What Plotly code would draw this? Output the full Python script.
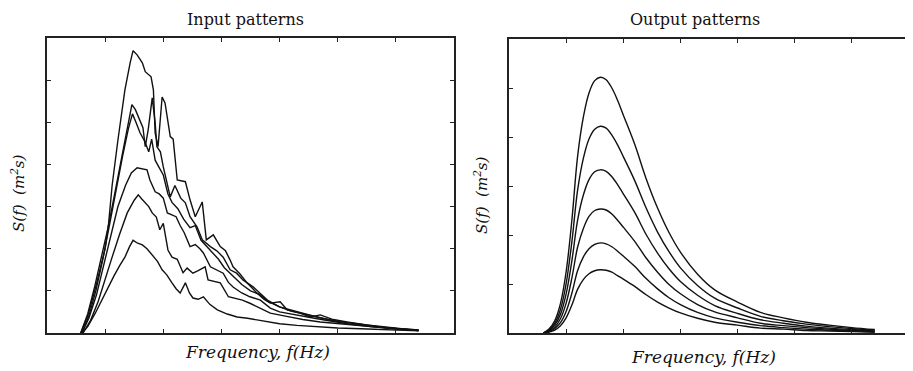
import plotly.graph_objects as go

# ---------------- Input patterns (left panel) ----------------
in_a_x = [0.58, 0.7, 0.82, 0.92, 1.0, 1.06, 1.12, 1.22, 1.34, 1.43, 1.48, 1.55, 1.64, 1.69, 1.79, 1.83, 1.86, 1.91,
          1.98, 2.03, 2.12, 2.17, 2.24, 2.38, 2.46, 2.55, 2.67, 2.74, 2.86, 2.98, 3.07, 3.15, 3.2, 3.32, 3.44, 3.61,
          3.73, 3.84, 4.01, 4.13, 4.35, 4.53, 4.7, 4.9, 5.16, 5.5, 5.8, 6.1, 6.39]
in_a_y = [0, 0.4, 1.0, 1.55, 2.0, 2.6, 3.5, 4.58, 5.77, 6.41, 6.7, 6.6, 6.41, 6.2, 6.08, 5.77, 4.75, 4.42,
          5.6, 5.46, 4.66, 4.6, 3.63, 3.59, 3.16, 2.76, 3.11, 2.21, 2.33, 2.05, 1.95, 1.73, 1.57, 1.4, 1.19, 0.95,
          0.8, 0.71, 0.74, 0.55, 0.47, 0.38, 0.43, 0.33, 0.26, 0.19, 0.14, 0.1, 0.07]

in_b_x = [0.58, 0.7, 0.82, 0.94, 1.05, 1.15, 1.25, 1.35, 1.42, 1.46, 1.52, 1.57, 1.65, 1.69, 1.74, 1.81, 1.86, 1.89,
          1.95, 2.0, 2.06, 2.12, 2.2, 2.3, 2.38, 2.46, 2.58, 2.67, 2.81, 2.92, 3.03, 3.15, 3.26, 3.37, 3.55, 3.79,
          4.0, 4.2, 4.45, 4.7, 5.0, 5.3, 5.6, 5.9, 6.2, 6.39]
in_b_y = [0, 0.45, 1.1, 1.8, 2.5, 3.2, 3.9, 4.6, 5.1, 5.42, 5.3, 5.13, 4.87, 4.42, 4.82, 5.58, 4.99, 4.42,
          4.3, 3.94, 3.6, 3.23, 3.5, 3.2, 3.09, 2.76, 2.52, 2.21, 2.05, 1.95, 1.8, 1.5, 1.42, 1.26, 1.09, 0.78,
          0.62, 0.55, 0.45, 0.36, 0.28, 0.22, 0.16, 0.12, 0.08, 0.06]

in_c_x = [0.6, 0.72, 0.84, 0.96, 1.08, 1.2, 1.3, 1.4, 1.47, 1.53, 1.6, 1.68, 1.75, 1.8, 1.86, 1.92, 2.0, 2.08,
          2.15, 2.25, 2.35, 2.46, 2.55, 2.65, 2.75, 2.85, 2.95, 3.05, 3.2, 3.35, 3.5, 3.65, 3.8, 4.0, 4.2, 4.4,
          4.65, 4.9, 5.2, 5.5, 5.8, 6.1, 6.39]
in_c_y = [0, 0.4, 1.0, 1.75, 2.6, 3.5, 4.2, 4.85, 5.2, 5.0, 4.75, 4.55, 4.3, 4.6, 4.1, 3.95, 3.75, 3.3,
          3.1, 2.95, 2.7, 2.5, 2.55, 2.2, 2.05, 1.9, 1.75, 1.55, 1.35, 1.15, 1.0, 0.92, 0.75, 0.62, 0.52, 0.45,
          0.38, 0.3, 0.24, 0.18, 0.13, 0.09, 0.06]

in_d_x = [0.6, 0.72, 0.85, 0.97, 1.1, 1.22, 1.35, 1.45, 1.55, 1.63, 1.72, 1.77, 1.86, 1.93, 2.0, 2.07, 2.15,
          2.22, 2.29, 2.36, 2.46, 2.55, 2.63, 2.69, 2.81, 2.92, 3.03, 3.12, 3.2, 3.35, 3.49, 3.67, 3.84, 4.0,
          4.3, 4.6, 4.9, 5.2, 5.6, 6.0, 6.39]
in_d_y = [0, 0.35, 0.9, 1.6, 2.35, 3.0, 3.5, 3.8, 3.92, 3.9, 3.87, 3.63, 3.35, 3.3, 3.2, 2.85, 2.8,
          2.76, 2.55, 2.38, 2.05, 2.1, 2.0, 1.9, 1.57, 1.5, 1.42, 1.2, 1.09, 0.95, 0.86, 0.78, 0.59, 0.5,
          0.42, 0.35, 0.28, 0.21, 0.15, 0.1, 0.07]

in_e_x = [0.62, 0.75, 0.88, 1.0, 1.12, 1.25, 1.38, 1.5, 1.57, 1.63, 1.69, 1.75, 1.81, 1.88, 1.94, 2.0, 2.08,
          2.15, 2.24, 2.34, 2.41, 2.51, 2.6, 2.72, 2.77, 2.88, 2.98, 3.12, 3.25, 3.36, 3.5, 3.61, 3.84, 4.1,
          4.4, 4.7, 5.0, 5.4, 5.8, 6.1, 6.39]
in_e_y = [0, 0.3, 0.75, 1.25, 1.8, 2.35, 2.85, 3.15, 3.28, 3.18, 3.09, 3.0, 2.85, 2.75, 2.45, 2.6, 1.97,
          1.8, 1.75, 1.43, 1.54, 1.42, 1.48, 1.57, 1.26, 1.22, 1.19, 0.86, 0.82, 0.78, 0.7, 0.62, 0.47, 0.4,
          0.32, 0.26, 0.22, 0.17, 0.12, 0.09, 0.06]

in_f_x = [0.6, 0.7, 0.83, 0.95, 1.05, 1.15, 1.25, 1.34, 1.42, 1.48, 1.56, 1.64, 1.72, 1.81, 1.9, 1.98, 2.06,
          2.15, 2.22, 2.29, 2.38, 2.45, 2.51, 2.6, 2.69, 2.8, 2.93, 3.1, 3.27, 3.45, 3.61, 3.8, 4.0, 4.3, 4.6,
          5.0, 5.4, 5.8, 6.1, 6.39]
in_f_y = [0, 0.15, 0.47, 0.8, 1.1, 1.35, 1.6, 1.8, 2.05, 2.2, 2.13, 2.09, 2.0, 1.85, 1.7, 1.5, 1.38,
          1.19, 1.05, 0.95, 1.19, 0.95, 0.83, 0.8, 0.86, 0.68, 0.55, 0.45, 0.38, 0.35, 0.31, 0.26, 0.22, 0.18,
          0.15, 0.12, 0.1, 0.08, 0.06, 0.05]

# ---------------- Output patterns (right panel) ----------------
out_x = [0.6, 0.7, 0.8, 0.9, 1.0, 1.1, 1.2, 1.3, 1.4, 1.5, 1.6, 1.7, 1.8, 1.9, 2.0, 2.2, 2.4, 2.6, 2.8,
         3.0, 3.3, 3.6, 4.0, 4.4, 4.8, 5.2, 5.6, 6.0, 6.4]
out_1 = [0, 0.08, 0.25, 0.6, 1.25, 2.3, 3.6, 4.4, 4.9, 5.15, 5.22, 5.17, 5.0, 4.75, 4.45, 3.85, 3.15, 2.55,
         2.05, 1.65, 1.2, 0.88, 0.63, 0.42, 0.31, 0.22, 0.16, 0.11, 0.07]
out_2 = [0, 0.06, 0.2, 0.48, 1.01, 1.86, 2.91, 3.56, 3.96, 4.16, 4.22, 4.18, 4.04, 3.84, 3.6, 3.11, 2.55,
         2.06, 1.66, 1.33, 0.97, 0.71, 0.51, 0.34, 0.25, 0.18, 0.13, 0.09, 0.06]
out_3 = [0, 0.05, 0.16, 0.38, 0.8, 1.47, 2.3, 2.81, 3.13, 3.29, 3.33, 3.3, 3.19, 3.03, 2.84, 2.46, 2.01,
         1.63, 1.31, 1.05, 0.77, 0.56, 0.4, 0.27, 0.2, 0.14, 0.1, 0.07, 0.04]
out_4 = [0, 0.04, 0.12, 0.29, 0.61, 1.12, 1.75, 2.13, 2.38, 2.5, 2.53, 2.51, 2.43, 2.3, 2.16, 1.87, 1.53,
         1.24, 0.99, 0.8, 0.58, 0.43, 0.31, 0.2, 0.15, 0.11, 0.08, 0.05, 0.03]
out_5 = [0, 0.03, 0.09, 0.21, 0.44, 0.81, 1.27, 1.55, 1.72, 1.81, 1.84, 1.82, 1.76, 1.67, 1.57, 1.36, 1.11,
         0.9, 0.72, 0.58, 0.42, 0.31, 0.22, 0.15, 0.11, 0.08, 0.06, 0.04, 0.02]
out_6 = [0, 0.02, 0.06, 0.15, 0.31, 0.57, 0.89, 1.09, 1.21, 1.27, 1.29, 1.28, 1.24, 1.17, 1.1, 0.95, 0.78,
         0.63, 0.51, 0.41, 0.3, 0.22, 0.16, 0.1, 0.08, 0.05, 0.04, 0.03, 0.02]

titles = ["Input patterns", "Output patterns"]
x_label = "Frequency, f(Hz)"
y_label = "S(f)  (m<sup>2</sup>s)"

# the page body has an 8px margin, so the figure is drawn 8px in from the window corner
OFF = 8
W, H = 913 - OFF, 371 - OFF
fig = go.Figure()

inputs = [(in_a_x, in_a_y), (in_b_x, in_b_y), (in_c_x, in_c_y),
          (in_d_x, in_d_y), (in_e_x, in_e_y), (in_f_x, in_f_y)]
for xs, ys in inputs:
    fig.add_trace(go.Scatter(x=xs, y=ys, mode="lines", line=dict(color="#111111", width=1.4),
                             xaxis="x", yaxis="y", showlegend=False, hoverinfo="skip"))
for ys in [out_1, out_2, out_3, out_4, out_5, out_6]:
    fig.add_trace(go.Scatter(x=out_x, y=ys, mode="lines", line=dict(color="#111111", width=1.4, shape="spline"),
                             xaxis="x2", yaxis="y2", showlegend=False, hoverinfo="skip"))

def px(x):
    return (x - OFF) / W

def py(y):
    return 1 - (y - OFF) / H

axis_common = dict(showgrid=False, zeroline=False, showline=True, linecolor="#222222", linewidth=1.5,
                   mirror="ticks", ticks="inside", ticklen=4, tickwidth=1.2, tickcolor="#222222",
                   showticklabels=False, dtick=1, tick0=0)

fig.update_layout(
    width=W, height=H,
    margin=dict(l=0, r=0, t=0, b=0),
    paper_bgcolor="white", plot_bgcolor="white",
    xaxis=dict(domain=[px(47), px(454)], range=[0, 7], anchor="y", **axis_common),
    yaxis=dict(domain=[py(333), py(38)], range=[0, 7], anchor="x", **axis_common),
    xaxis2=dict(domain=[px(509), px(909)], range=[0, 7], anchor="y2", **axis_common),
    yaxis2=dict(domain=[py(333), py(39)], range=[0, 6], anchor="x2", **axis_common),
)

font_t = dict(family="DejaVu Serif", size=16, color="#111111")
font_i = dict(family="DejaVu Serif", size=17, color="#111111", style="italic")
font_y = dict(family="DejaVu Serif", size=15, color="#111111", style="italic")
ann = [
    dict(text=titles[0], x=px(245), y=py(8.5), font=font_t, yanchor="top"),
    dict(text=titles[1], x=px(695), y=py(8.5), font=font_t, yanchor="top"),
    dict(text=x_label, x=px(257), y=py(352), font=font_i, yanchor="middle"),
    dict(text=x_label, x=px(703), y=py(357), font=font_i, yanchor="middle"),
    dict(text=y_label, x=px(18), y=py(193), font=font_y, textangle=-90, yanchor="middle"),
    dict(text=y_label, x=px(481), y=py(195), font=font_y, textangle=-90, yanchor="middle"),
]
for a in ann:
    fig.add_annotation(xref="paper", yref="paper", showarrow=False, xanchor="center", **a)

fig.write_html("out.html")
